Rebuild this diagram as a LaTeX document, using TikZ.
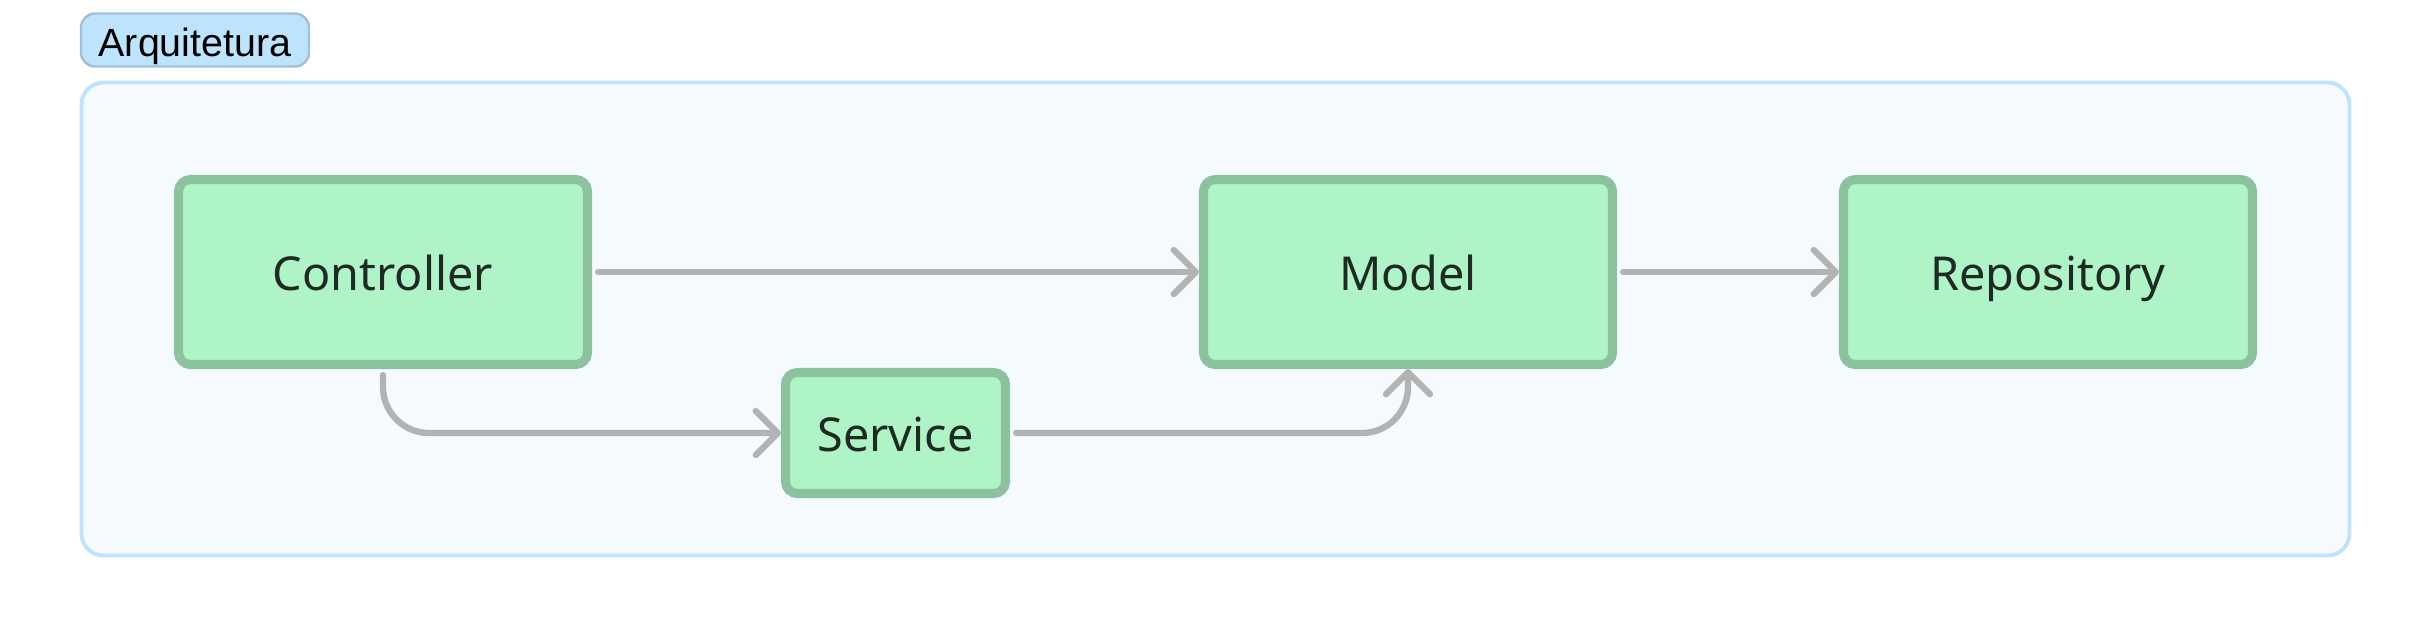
\documentclass[tikz,border=0pt]{standalone}
\usepackage{fontspec}
\setmainfont{Noto Sans}
\newfontfamily\rotulofont{Liberation Sans}
\usetikzlibrary{arrows.meta}
\definecolor{caixa}{RGB}{175,244,198}
\definecolor{bordacaixa}{RGB}{140,195,158}
\definecolor{fundo}{RGB}{245,250,255}
\definecolor{bordafundo}{RGB}{191,227,252}
\definecolor{etiqueta}{RGB}{190,227,253}
\definecolor{bordaetiqueta}{RGB}{158,194,220}
\definecolor{cinza}{RGB}{179,179,179}
\definecolor{texto}{RGB}{31,42,35}
\tikzset{
  componente/.style={draw=bordacaixa,fill=caixa,line width=2.6pt,rounded corners=0.12cm,
    text=texto,font=\fontsize{13.3}{15}\selectfont,inner sep=0pt,
    text height=0.37cm,text depth=0cm,minimum width=4.09cm,minimum height=1.85cm},
  rotulo/.style={draw=bordaetiqueta,fill=etiqueta,line width=0.7pt,rounded corners=0.14cm,
    text=black,font=\rotulofont\fontsize{11.2}{13}\selectfont,inner sep=0pt,
    text height=0.33cm,text depth=0cm,minimum width=2.28cm,minimum height=0.53cm},
  seta/.style={draw=cinza,line width=1.8pt,line cap=round,rounded corners=0.46cm,
    -{Straight Barb[length=0.22cm,width=0.44cm,round]}},
}
\begin{document}
\begin{tikzpicture}
\useasboundingbox[fill=white] (0,0) rectangle (24.32,-6.4);
% Moldura
\draw[draw=bordafundo,fill=fundo,line width=1.1pt,rounded corners=0.22cm]
  (0.815,-0.825) rectangle (23.495,-5.555);
% Arquitetura
\node[rotulo] (arq) at (1.95,-0.4) {Arquitetura};
% Controller
\node[componente] (controller) at (3.83,-2.72) {Controller};
% Model
\node[componente] (model) at (14.08,-2.72) {Model};
% Repository
\node[componente] (repository) at (20.48,-2.72) {Repository};
% Service
\node[componente,minimum width=2.2cm,minimum height=1.21cm] (service) at (8.955,-4.33) {Service};
% Setas
\draw[seta] ([xshift=0.06cm]controller.east) -- (model.west);
\draw[seta] ([xshift=0.06cm]model.east) -- (repository.west);
\draw[seta] ([yshift=-0.06cm]controller.south) |- (service.west);
\draw[seta] ([xshift=0.06cm]service.east) -| (model.south);
\end{tikzpicture}
\end{document}
